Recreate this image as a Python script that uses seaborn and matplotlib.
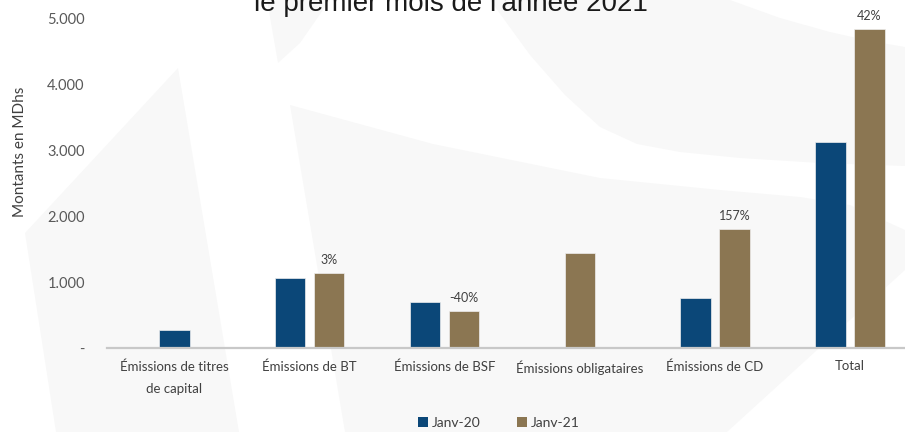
import matplotlib
matplotlib.use("Agg")
import numpy as np
import pandas as pd
import matplotlib.pyplot as plt
import seaborn as sns
from matplotlib.patches import Polygon, Patch

# Données (montants en MDhs)
categories = ["Émissions de titres\nde capital", "Émissions de BT", "Émissions de BSF",
              "Émissions obligataires", "Émissions de CD", "Total"]
janv_20 = [280, 1055, 700, None, 755, 3120]
janv_21 = [None, 1140, 565, 1435, 1800, 4830]
variations = [None, "3%", "-40%", None, "157%", "42%"]
series = ["Janv-20", "Janv-21"]
couleurs = ["#0B4778", "#8B7652"]
yticks = [0, 1000, 2000, 3000, 4000, 5000]
ytick_labels = ["-", "1.000", "2.000", "3.000", "4.000", "5.000"]

W, H = 905, 432
decalage = 0.1444   # demi-écart entre les deux barres d'une catégorie
largeur = 0.226     # largeur d'une barre (en unités de catégorie)

# Tableau long : une barre seule est centrée sur sa catégorie
rows = []
for i, cat in enumerate(categories):
    vals = [janv_20[i], janv_21[i]]
    n = sum(v is not None for v in vals)
    for k, (serie, v) in enumerate(zip(series, vals)):
        if v is None:
            continue
        pos = i + (decalage * (2 * k - 1) if n == 2 else 0)
        rows.append({"pos": pos, "valeur": v, "serie": serie, "cat": i})
df = pd.DataFrame(rows)

sns.set_style("white")
plt.rcParams["font.family"] = ["Lato", "DejaVu Sans"]

fig = plt.figure(figsize=(W / 100, H / 100), dpi=100)

# Filigrane gris clair en arrière-plan (logo)
bg = fig.add_axes([0, 0, 1, 1], zorder=0)
bg.set_xlim(0, W)
bg.set_ylim(H, 0)
bg.axis("off")
gris = "#f8f8f8"
formes = [
    # triangle de gauche
    [(178, 68), (25, 233), (56, 432), (239, 432)],
    # petit coin en haut
    [(267, 0), (278, 63), (300, 43), (330, 0)],
    # bande en arc en haut à droite
    [(730, 0), (780, 18), (830, 32), (870, 41), (905, 47), (905, 166),
     (820, 163), (740, 158), (680, 152), (637, 144), (600, 127),
     (565, 95), (530, 55), (490, 0)],
    # grande forme centrale
    [(290, 105), (433, 144), (600, 178), (720, 190), (800, 197),
     (850, 205), (905, 230), (905, 270), (727, 432), (345, 432)],
]
for f in formes:
    bg.add_patch(Polygon(f, closed=True, facecolor=gris, edgecolor="none"))

ax = fig.add_axes([107 / W, 84 / H, 810.5 / W, 330 / H], zorder=1)
ax.patch.set_alpha(0)

sns.barplot(data=df, x="pos", y="valeur", hue="serie", palette=couleurs,
            native_scale=True, dodge=False, width=largeur / (2 * decalage),
            saturation=1, errorbar=None, legend=False, edgecolor="#eeeeee",
            linewidth=0.5, ax=ax)

# Étiquettes de variation au-dessus des barres Janv-21
for i, lab in enumerate(variations):
    if lab is None:
        continue
    sub = df[(df["cat"] == i) & (df["serie"] == "Janv-21")]
    ax.annotate(lab, (sub["pos"].iloc[0], sub["valeur"].iloc[0]),
                xytext=(0, 5), textcoords="offset points", ha="center",
                va="bottom", fontsize=9, color="#404040")

ax.set_xlim(-0.5, 5.5)
ax.set_ylim(0, 5000)
ax.set_xticks(range(len(categories)))
ax.set_xticklabels(categories, fontsize=9.5, color="#404040", linespacing=2.0)
ax.set_yticks(yticks)
ax.set_yticklabels(ytick_labels, fontsize=10.5, color="#595959")
ax.tick_params(axis="y", length=0, pad=16)
ax.tick_params(axis="x", length=0, pad=9)
ax.set_xlabel("")
ax.set_ylabel("")
for s in ["left", "top", "right"]:
    ax.spines[s].set_visible(False)
ax.spines["bottom"].set_color("#c8c8c8")
ax.spines["bottom"].set_linewidth(1.6)

fig.text(20 / W, 1 - 152 / H, "Montants en MDhs", rotation=90, ha="center",
         va="center", fontsize=11, color="#404040")

# Titre (seule la fin est visible)
fig.text(451 / W, 1 - 11 / H, "le premier mois de l'année 2021", ha="center",
         va="baseline", fontsize=20, color="#1a1a1a", family="Liberation Sans")

handles = [Patch(facecolor=c, edgecolor="none") for c in couleurs]
fig.legend(handles, series, loc="center", bbox_to_anchor=(499 / W, 1 - 423 / H),
           ncol=2, frameon=False, fontsize=10, handlelength=0.7,
           handleheight=0.7, handletextpad=0.3, columnspacing=2.6,
           labelcolor="#404040")

fig.savefig("out.png", dpi=100)
